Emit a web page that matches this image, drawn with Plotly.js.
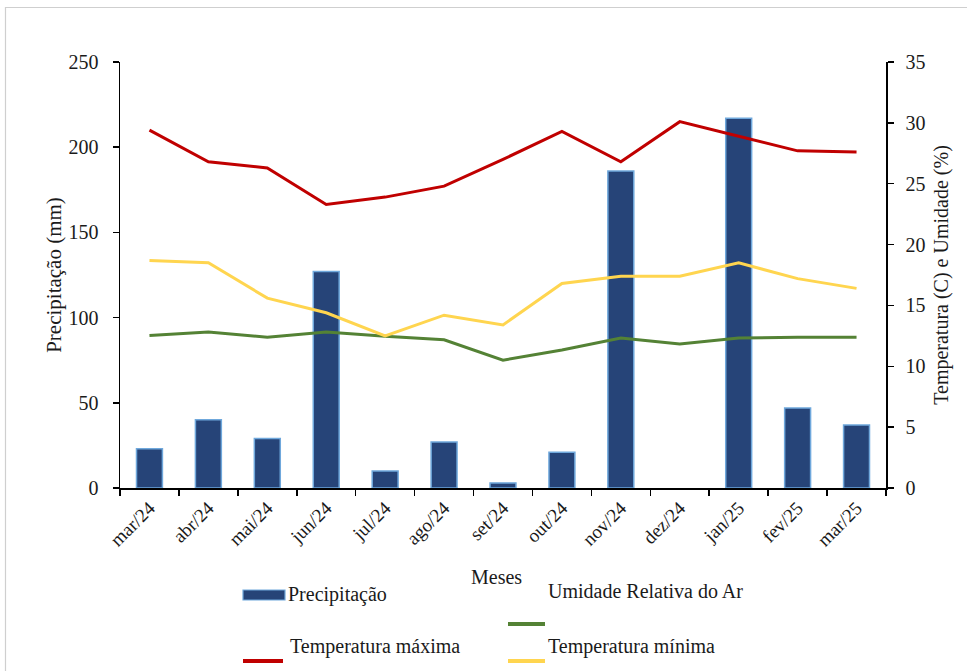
<!DOCTYPE html>
<html>
<head>
<meta charset="utf-8">
<script src="https://cdn.plot.ly/plotly-3.0.1.min.js"></script>
<style>
  html, body { margin: 0; padding: 0; background: #ffffff; }
  #chart { width: 967px; height: 671px; }
</style>
</head>
<body>
<div id="chart"></div>
<script>
// Monthly climate series, March 2024 to March 2025
const months = ['mar/24', 'abr/24', 'mai/24', 'jun/24', 'jul/24', 'ago/24', 'set/24',
                'out/24', 'nov/24', 'dez/24', 'jan/25', 'fev/25', 'mar/25'];
const precipitacao = [23, 40, 29, 127, 10, 27, 3, 21, 186, 0, 217, 47, 37];   // mm
const umidade = [89.5, 91.5, 88.5, 91.5, 89, 87, 75, 81, 88, 84.5, 88, 88.5, 88.5]; // %
const tempMax = [29.4, 26.8, 26.3, 23.3, 23.9, 24.8, 27.0, 29.3, 26.8, 30.1, 28.9, 27.7, 27.6]; // C
const tempMin = [18.7, 18.5, 15.6, 14.4, 12.5, 14.2, 13.4, 16.8, 17.4, 17.4, 18.5, 17.2, 16.4]; // C

const seriesNames = ['Precipitação', 'Umidade Relativa do Ar', 'Temperatura máxima', 'Temperatura mínima'];
const seriesColors = ['#264478', '#548235', '#C00000', '#FFD54F'];

const serif = 'Liberation Serif, Times New Roman, serif';
const ink = '#1a1a1a';

// Plot area in pixels: used to place the frame and the legend in paper units
const plotL = 120, plotR = 886, plotT = 62, plotB = 488;
const px = x => (x - plotL) / (plotR - plotL);
const py = y => (plotB - y) / (plotB - plotT);

const traces = [
  {
    type: 'bar', x: months, y: precipitacao, name: seriesNames[0], yaxis: 'y',
    width: 0.44,
    marker: {
      color: seriesColors[0],
      // no outline on months without rain, so no sliver is drawn at zero
      line: { color: '#6FA8DC', width: precipitacao.map(v => (v > 0 ? 1.5 : 0)) }
    },
    hoverinfo: 'x+y'
  },
  {
    type: 'scatter', mode: 'lines', x: months, y: umidade, name: seriesNames[1], yaxis: 'y',
    line: { color: seriesColors[1], width: 3 }
  },
  {
    type: 'scatter', mode: 'lines', x: months, y: tempMax, name: seriesNames[2], yaxis: 'y2',
    line: { color: seriesColors[2], width: 3 }
  },
  {
    type: 'scatter', mode: 'lines', x: months, y: tempMin, name: seriesNames[3], yaxis: 'y2',
    line: { color: seriesColors[3], width: 3 }
  }
];

// Legend laid out in two columns beneath the axis title
const legendItems = [
  { i: 0, kind: 'bar',  sx0: 243, sx1: 285, sy: 595, tx: 286, ty: 594 },
  { i: 1, kind: 'line', sx0: 508, sx1: 545, sy: 624, tx: 546, ty: 591 },
  { i: 2, kind: 'line', sx0: 243, sx1: 283, sy: 661, tx: 288, ty: 646 },
  { i: 3, kind: 'line', sx0: 508, sx1: 545, sy: 661, tx: 546, ty: 646 }
];

const shapes = [
  // light frame around the figure
  {
    type: 'rect', xref: 'paper', yref: 'paper', layer: 'below',
    x0: px(5.5), x1: px(990), y0: py(700), y1: py(7.5),
    line: { color: '#cfcfcf', width: 1.2 }, fillcolor: 'rgba(0,0,0,0)'
  }
];
const annotations = [
  {
    text: 'Meses', xref: 'paper', yref: 'paper', x: px(496), y: py(577),
    xanchor: 'center', yanchor: 'middle', showarrow: false,
    font: { family: serif, size: 20, color: ink }
  }
];

legendItems.forEach(it => {
  const c = seriesColors[it.i];
  if (it.kind === 'bar') {
    shapes.push({
      type: 'rect', xref: 'paper', yref: 'paper',
      x0: px(it.sx0), x1: px(it.sx1), y0: py(it.sy + 5), y1: py(it.sy - 5),
      fillcolor: c, line: { color: '#6FA8DC', width: 1.2 }
    });
  } else {
    shapes.push({
      type: 'line', xref: 'paper', yref: 'paper',
      x0: px(it.sx0), x1: px(it.sx1), y0: py(it.sy), y1: py(it.sy),
      line: { color: c, width: 4 }
    });
  }
  annotations.push({
    text: seriesNames[it.i], xref: 'paper', yref: 'paper',
    x: px(it.tx), y: py(it.ty), xanchor: 'left', yanchor: 'middle',
    showarrow: false, font: { family: serif, size: 20, color: ink }
  });
});

const axisCommon = {
  showgrid: false, zeroline: false, showline: true,
  linecolor: '#000000', linewidth: 1.5,
  ticks: 'outside', ticklen: 6, tickwidth: 1.5, tickcolor: '#000000',
  tickfont: { family: serif, size: 20, color: ink }
};

const layout = {
  width: 967, height: 671,
  margin: { l: plotL, r: 967 - plotR, t: plotT, b: 671 - plotB },
  paper_bgcolor: '#ffffff', plot_bgcolor: '#ffffff',
  showlegend: false,
  bargap: 0.5,
  xaxis: Object.assign({}, axisCommon, {
    type: 'category', range: [-0.5, months.length - 0.5],
    tickson: 'boundaries', tickangle: -45,
    tickfont: { family: serif, size: 19, color: ink }
  }),
  yaxis: Object.assign({}, axisCommon, {
    range: [0, 250], tick0: 0, dtick: 50,
    ticklabelstandoff: 10,
    title: { text: 'Precipitação (mm)', font: { family: serif, size: 21, color: ink }, standoff: 1 }
  }),
  yaxis2: Object.assign({}, axisCommon, {
    overlaying: 'y', side: 'right', anchor: 'x',
    range: [0, 35], tick0: 0, dtick: 5,
    ticklabelstandoff: 8,
    title: { text: 'Temperatura (C) e Umidade (%)', font: { family: serif, size: 20, color: ink }, standoff: 9 }
  }),
  shapes: shapes,
  annotations: annotations
};

Plotly.newPlot('chart', traces, layout, { displayModeBar: false, staticPlot: true });
</script>
</body>
</html>
